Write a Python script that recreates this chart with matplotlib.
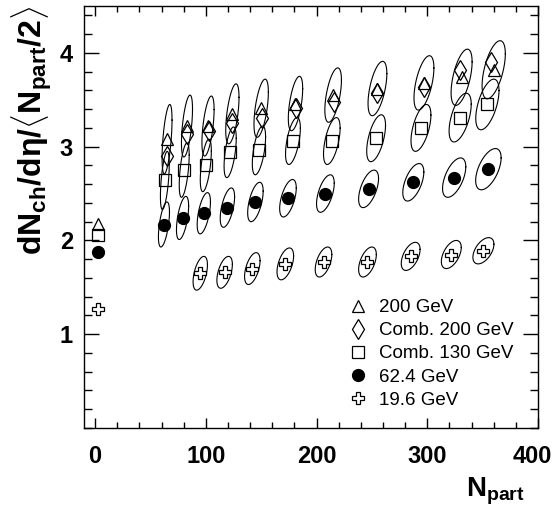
import numpy as np
import matplotlib
matplotlib.use("Agg")
import matplotlib.pyplot as plt
from matplotlib.ticker import MultipleLocator
from matplotlib.lines import Line2D
from matplotlib.transforms import ScaledTranslation

plt.rcParams['font.family'] = ['Liberation Sans', 'DejaVu Sans']
plt.rcParams['mathtext.fontset'] = 'custom'
plt.rcParams['mathtext.rm'] = 'Liberation Sans'
plt.rcParams['mathtext.bf'] = 'Liberation Sans:bold'
plt.rcParams['mathtext.it'] = 'Liberation Sans:italic'

# ---- data ----
# p+p reference points (Npart = 2)
pp_npart = 2.4
pp_200 = 2.18
pp_130 = 2.06
pp_62 = 1.88
pp_19 = 1.27

# 200 GeV
npart_200 = [65, 83, 102, 124, 150, 181, 215, 255, 297, 331, 360]
y_200 = [3.08, 3.22, 3.22, 3.35, 3.41, 3.46, 3.55, 3.62, 3.68, 3.74, 3.82]
ex_200 = [4.5, 5.0, 5.5, 6.0, 6.5, 6.5, 7.5, 8.5, 9.0, 9.5, 10.5]
ey_200 = [0.37, 0.33, 0.32, 0.32, 0.31, 0.29, 0.29, 0.29, 0.29, 0.30, 0.31]

# Comb. 200 GeV
npart_c200 = [65, 83, 102.7, 124, 151, 181.7, 216, 255, 296.7, 330, 357.7]
y_c200 = [2.90, 3.14, 3.17, 3.25, 3.31, 3.41, 3.48, 3.57, 3.64, 3.82, 3.90]

# Comb. 130 GeV
npart_130 = [63, 80.5, 100, 122, 148, 178.7, 213.8, 253.8, 294.3, 329.7, 354.3]
y_130 = [2.64, 2.75, 2.80, 2.94, 2.96, 3.06, 3.06, 3.09, 3.20, 3.31, 3.45]
ex_130 = [4.0, 4.5, 5.0, 5.5, 6.0, 6.7, 7.5, 8.5, 9.0, 10.0, 10.5]
ey_130 = [0.31, 0.29, 0.28, 0.27, 0.26, 0.25, 0.25, 0.25, 0.25, 0.26, 0.27]

# 62.4 GeV
npart_62 = [62.2, 79, 98.2, 119.5, 144.8, 174.2, 208, 247, 287.4, 324.3, 355.2]
y_62 = [2.17, 2.24, 2.29, 2.35, 2.41, 2.45, 2.50, 2.55, 2.62, 2.67, 2.76]
ex_62 = [5.0, 5.5, 6.0, 6.5, 7.0, 7.5, 8.0, 9.0, 9.5, 10.5, 11.5]
ey_62 = [0.24, 0.23, 0.22, 0.21, 0.21, 0.20, 0.20, 0.20, 0.20, 0.21, 0.22]

# 19.6 GeV
npart_19 = [95, 117, 142, 171.8, 206.3, 246, 285, 321.7, 350.7]
y_19 = [1.65, 1.66, 1.70, 1.75, 1.77, 1.77, 1.83, 1.85, 1.89]
ex_19 = [6.5, 7.0, 7.0, 7.5, 7.5, 8.0, 8.5, 9.0, 9.5]
ey_19 = [0.18, 0.17, 0.17, 0.17, 0.16, 0.16, 0.15, 0.15, 0.14]

rho_200, rho_130, rho_62, rho_19 = 0.55, 0.55, 0.55, 0.5

legend_labels = ['200 GeV', 'Comb. 200 GeV', 'Comb. 130 GeV', '62.4 GeV', '19.6 GeV']

# ---- figure ----
fig = plt.figure(figsize=(5.56, 5.07), dpi=100)
ax = fig.add_axes([84/556, 1-428/507, (538-84)/556, (428-6)/507])

t = np.linspace(0, 2*np.pi, 200)
def ellipses(xs, ys, exs, eys, rho):
    for x0, y0, sx, sy in zip(xs, ys, exs, eys):
        ex = x0 + sx*np.cos(t)
        ey = y0 + sy*(rho*np.cos(t) + np.sqrt(1-rho**2)*np.sin(t))
        ax.plot(ex, ey, color='black', lw=0.8, zorder=2)

ellipses(npart_200, y_200, ex_200, ey_200, rho_200)
ellipses(npart_130, y_130, ex_130, ey_130, rho_130)
ellipses(npart_62, y_62, ex_62, ey_62, rho_62)
ellipses(npart_19, y_19, ex_19, ey_19, rho_19)

mk = dict(linestyle='none', color='black', zorder=3)
ax.plot(npart_200 + [pp_npart], y_200 + [pp_200], marker='^', ms=9, mew=0.9, fillstyle='none', **mk)
ax.plot(npart_c200, y_c200, marker='d', ms=10.5, mew=0.9, fillstyle='none', **mk)
ax.plot(npart_130 + [pp_npart], y_130 + [pp_130], marker='s', ms=9, mew=0.9, fillstyle='none', **mk)
ax.plot(npart_62 + [pp_npart], y_62 + [pp_62], marker='o', ms=8.5, **mk)
ax.plot(npart_19 + [pp_npart], y_19 + [pp_19], marker='P', ms=9, mew=0.9, markerfacecolor='white', markeredgecolor='black', linestyle='none', zorder=3)

ax.set_xlim(-10, 400)
ax.set_ylim(0, 4.5)
ax.xaxis.set_major_locator(MultipleLocator(100))
ax.xaxis.set_minor_locator(MultipleLocator(20))
ax.yaxis.set_major_locator(MultipleLocator(1))
ax.yaxis.set_minor_locator(MultipleLocator(0.2))
ax.set_yticks([1, 2, 3, 4])
for s in ax.spines.values():
    s.set_linewidth(1.0)
ax.tick_params(axis='both', which='both', direction='in', top=True, right=True, width=1.0)
ax.tick_params(axis='y', which='major', length=11, pad=8, labelsize=17)
ax.tick_params(axis='y', which='minor', length=5.5)
ax.tick_params(axis='x', which='major', length=7.5, pad=12, labelsize=17)
ax.tick_params(axis='x', which='minor', length=4)
for lab in ax.get_xticklabels() + ax.get_yticklabels():
    lab.set_fontweight('bold')

ax.set_ylabel(r'$\mathbf{dN_{ch}/dη/\langle N_{part}/2\rangle}$', fontsize=23, loc='top', labelpad=4)
ax.set_xlabel(r'$\mathbf{N_{part}}$', fontsize=20)
ax.xaxis.set_label_coords((525-84)/454, -(476-428)/422)
ax.xaxis.label.set_ha('right')
ax.xaxis.label.set_va('top')

handles = [
    Line2D([], [], marker='^', ms=9, mew=0.9, fillstyle='none', color='black', linestyle='none'),
    Line2D([], [], marker='d', ms=10.5, mew=0.9, fillstyle='none', color='black', linestyle='none'),
    Line2D([], [], marker='s', ms=9, mew=0.9, fillstyle='none', color='black', linestyle='none'),
    Line2D([], [], marker='o', ms=8.5, color='black', linestyle='none'),
    Line2D([], [], marker='P', ms=9, mew=0.9, markerfacecolor='white', markeredgecolor='black', linestyle='none'),
]
ax.legend(handles, legend_labels, loc='upper left', bbox_to_anchor=(349/556, 1-299/507),
          bbox_transform=fig.transFigure, frameon=False, fontsize=13.5,
          handlelength=1.0, handletextpad=0.6, labelspacing=0.32, borderpad=0, borderaxespad=0)

# keep the last x tick label inside the canvas
fig.canvas.draw()
for tk in ax.xaxis.get_major_ticks():
    if abs(tk.get_loc() - 400) < 1e-6:
        lab = tk.label1
        lab.set_transform(lab.get_transform() + ScaledTranslation(-6/100, 0, fig.dpi_scale_trans))

fig.savefig('out.png', dpi=100)
